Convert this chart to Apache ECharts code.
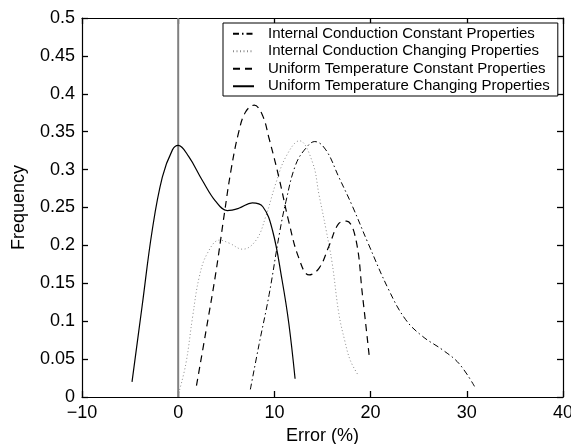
<!DOCTYPE html>
<html>
<head>
<meta charset="utf-8">
<script src="https://cdn.jsdelivr.net/npm/echarts@6/dist/echarts.min.js"></script>
<style>html,body{margin:0;padding:0;background:#fff}#c{width:571px;height:444px}</style>
</head>
<body>
<div id="c"></div>
<script>
var seriesNames = [
  'Internal Conduction Constant Properties',
  'Internal Conduction Changing Properties',
  'Uniform Temperature Constant Properties',
  'Uniform Temperature Changing Properties'
];
var icConstant = [[7.5,0.01],[8.4,0.069],[9.45,0.135],[10.5,0.214],[11.2,0.258],[12.2,0.306],[13.25,0.328],[14.2,0.337],[15.35,0.326],[16.7,0.29],[18.1,0.252],[19.7,0.204],[21.9,0.141],[23.65,0.102],[25.4,0.08],[27.5,0.062],[29.2,0.044],[30.8,0.014]];
var icChanging = [[0.05,0.005],[0.8,0.044],[1.5,0.106],[2.2,0.159],[3.05,0.19],[4.3,0.207],[5.3,0.203],[6.7,0.195],[8.1,0.207],[9.1,0.238],[10.15,0.282],[11.2,0.317],[12.6,0.338],[13.95,0.31],[14.65,0.266],[15.35,0.222],[16.0,0.177],[16.7,0.11],[17.3,0.075],[17.9,0.048],[18.7,0.029]];
var utConstant = [[1.9,0.015],[2.9,0.088],[3.9,0.163],[4.8,0.242],[5.5,0.3],[6.3,0.35],[7.0,0.376],[7.9,0.385],[8.75,0.372],[9.45,0.341],[10.5,0.288],[11.5,0.231],[12.55,0.183],[13.6,0.161],[14.65,0.17],[15.7,0.2],[16.7,0.229],[17.5,0.232],[18.45,0.209],[19.15,0.135],[19.85,0.055]];
var utChanging = [[-4.8,0.02],[-3.75,0.12],[-2.7,0.22],[-1.65,0.29],[-0.6,0.326],[0,0.332],[1.1,0.317],[2.5,0.286],[3.9,0.258],[5.1,0.246],[6.3,0.249],[7.7,0.256],[8.8,0.251],[9.8,0.22],[10.8,0.154],[11.5,0.097],[12.15,0.024]];
var zeroLine = [[0,0],[0,0.5]];
var xRange = [-10, 40, 10];
var yRange = [0, 0.5, 0.05];

var FONT = "'Liberation Sans', Arial, Helvetica, sans-serif";
var chart = echarts.init(document.getElementById('c'));
function fmtX(v){ return String(v).replace('-', '\u2212'); }
function fmtY(v){ return String(parseFloat(v.toFixed(2))); }
function axLine(onZero){ var o = {show:true, lineStyle:{color:'#000', width:1.2}}; if (!onZero) o.onZero = false; return o; }
function axTick(){ return {show:true, inside:true, length:6, lineStyle:{color:'#000', width:1.3}}; }
var option = {
  animation:false,
  backgroundColor:'#fff',
  textStyle:{fontFamily:FONT},
  grid:{left:82, right:8, top:18, bottom:47, outerBoundsMode:'none'},
  legend:{
    data:seriesNames, orient:'vertical', left:223, top:23,
    backgroundColor:'#fff', borderColor:'#000', borderWidth:1,
    padding:[2,8,1,9], itemGap:0, itemWidth:21, itemHeight:10,
    itemStyle:{opacity:0},
    textStyle:{fontFamily:FONT, fontSize:15, color:'#000', lineHeight:17.5, padding:[0,0,0,9]}
  },
  xAxis:[
    {type:'value', min:xRange[0], max:xRange[1], interval:xRange[2], position:'bottom',
     axisLine:axLine(true), axisTick:axTick(), splitLine:{show:false},
     axisLabel:{fontFamily:FONT, fontSize:18, color:'#000', margin:7, formatter:fmtX},
     name:'Error (%)', nameLocation:'middle', nameGap:28,
     nameTextStyle:{fontFamily:FONT, fontSize:18, color:'#000'}},
    {type:'value', min:xRange[0], max:xRange[1], interval:xRange[2], position:'top',
     axisLine:axLine(false), axisTick:axTick(), splitLine:{show:false},
     axisLabel:{show:true, color:'rgba(0,0,0,0)', fontSize:1, formatter:function(){return '';}}}
  ],
  yAxis:[
    {type:'value', min:yRange[0], max:yRange[1], interval:yRange[2], position:'left',
     axisLine:axLine(false), axisTick:axTick(), splitLine:{show:false},
     axisLabel:{fontFamily:FONT, fontSize:18, color:'#000', margin:7, formatter:fmtY},
     name:'Frequency', nameLocation:'middle', nameGap:54, nameRotate:90,
     nameTextStyle:{fontFamily:FONT, fontSize:18, color:'#000'}},
    {type:'value', min:yRange[0], max:yRange[1], interval:yRange[2], position:'right',
     axisLine:axLine(false), axisTick:axTick(), splitLine:{show:false},
     axisLabel:{show:true, color:'rgba(0,0,0,0)', fontSize:1, formatter:function(){return '';}}}
  ],
  series:[
    {name:'zero', type:'line', data:zeroLine, symbol:'none', silent:true,
     lineStyle:{color:'#808080', width:2}, z:1},
    {name:seriesNames[0], type:'line', data:icConstant, symbol:'none', smooth:0.4,
     color:'#000', lineStyle:{color:'#000', width:1, type:[6,3,1.5,3]}},
    {name:seriesNames[1], type:'line', data:icChanging, symbol:'none', smooth:0.4,
     color:'#999', lineStyle:{color:'#8c8c8c', width:1, type:[1,2.5]}},
    {name:seriesNames[2], type:'line', data:utConstant, symbol:'none', smooth:0.4,
     color:'#000', lineStyle:{color:'#000', width:1.2, type:[7,5]}},
    {name:seriesNames[3], type:'line', data:utChanging, symbol:'none', smooth:0.4,
     color:'#000', lineStyle:{color:'#000', width:1.2, type:'solid'}}
  ]
};
chart.setOption(option);
</script>
</body>
</html>
